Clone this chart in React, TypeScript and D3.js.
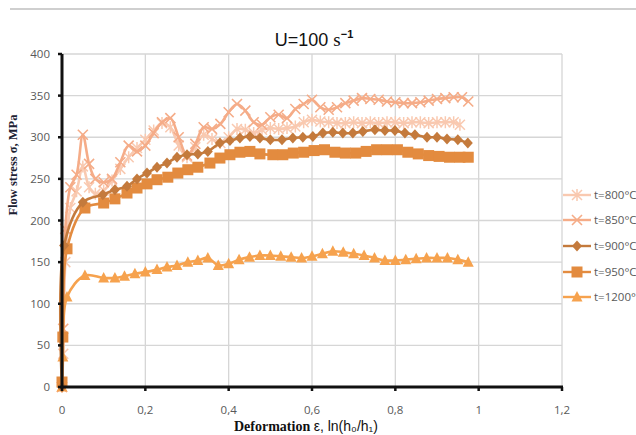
import React, { useEffect, useRef } from "react";
import * as d3 from "d3";

const xTicks = [0, 0.2, 0.4, 0.6, 0.8, 1, 1.2];
const yTicks = [0, 50, 100, 150, 200, 250, 300, 350, 400];

const seriesNames = ["t=800°C", "t=850°C", "t=900°C", "t=950°C", "t=1200°C"];

const x800 = [0, 0.003, 0.008, 0.02, 0.035, 0.05, 0.065, 0.08, 0.1, 0.12, 0.14, 0.16, 0.18, 0.2, 0.22, 0.24, 0.26, 0.28, 0.3, 0.32, 0.34, 0.36, 0.38, 0.4, 0.42, 0.44, 0.46, 0.48, 0.5, 0.52, 0.54, 0.56, 0.58, 0.6, 0.62, 0.64, 0.66, 0.68, 0.7, 0.72, 0.74, 0.76, 0.78, 0.8, 0.82, 0.84, 0.86, 0.88, 0.9, 0.92, 0.94, 0.955];
const v800 = [0, 40, 150, 215, 235, 265, 240, 232, 236, 248, 262, 276, 287, 297, 308, 317, 312, 290, 276, 288, 303, 298, 293, 300, 310, 309, 305, 309, 311, 310, 311, 313, 318, 321, 319, 318, 317, 317, 318, 317, 318, 317, 318, 318, 317, 318, 318, 317, 318, 318, 318, 315];

const x850 = [0, 0.003, 0.008, 0.02, 0.035, 0.05, 0.065, 0.08, 0.1, 0.12, 0.14, 0.16, 0.18, 0.2, 0.22, 0.24, 0.26, 0.28, 0.3, 0.32, 0.34, 0.36, 0.38, 0.4, 0.42, 0.44, 0.46, 0.48, 0.5, 0.52, 0.54, 0.56, 0.58, 0.6, 0.62, 0.64, 0.66, 0.68, 0.7, 0.72, 0.74, 0.76, 0.78, 0.8, 0.82, 0.84, 0.86, 0.88, 0.9, 0.92, 0.94, 0.96, 0.975];
const v850 = [0, 70, 190, 240, 255, 303, 268, 250, 246, 250, 270, 290, 283, 290, 305, 318, 323, 300, 278, 292, 312, 310, 316, 330, 340, 332, 318, 315, 324, 327, 323, 334, 340, 345, 336, 333, 336, 341, 344, 347, 346, 345, 343, 342, 341, 341, 342, 344, 346, 347, 348, 348, 343];

const x900 = [0, 0.005, 0.05, 0.098, 0.127, 0.156, 0.18, 0.204, 0.228, 0.252, 0.276, 0.3, 0.326, 0.35, 0.379, 0.403, 0.427, 0.451, 0.475, 0.5, 0.528, 0.554, 0.578, 0.602, 0.626, 0.65, 0.674, 0.698, 0.722, 0.751, 0.775, 0.799, 0.823, 0.847, 0.876, 0.9, 0.924, 0.95, 0.974];
const v900 = [0, 170, 222, 231, 237, 241, 250, 257, 264, 269, 276, 279, 280, 283, 293, 296, 299, 301, 299, 297, 297, 299, 300, 301, 305, 306, 305, 305, 307, 309, 308, 308, 305, 303, 300, 300, 298, 297, 293];

const x950 = [0, 0.002, 0.012, 0.055, 0.1, 0.127, 0.156, 0.18, 0.204, 0.228, 0.254, 0.278, 0.302, 0.326, 0.355, 0.379, 0.403, 0.427, 0.451, 0.475, 0.506, 0.53, 0.555, 0.58, 0.605, 0.63, 0.655, 0.68, 0.705, 0.73, 0.755, 0.78, 0.805, 0.83, 0.855, 0.88, 0.905, 0.93, 0.955, 0.975];
const v950 = [6, 60, 166, 215, 221, 226, 233, 239, 244, 249, 252, 257, 261, 264, 269, 275, 279, 282, 283, 280, 279, 279, 281, 282, 284, 285, 282, 281, 281, 283, 285, 285, 285, 282, 280, 278, 277, 276, 276, 276];

const x1200 = [0, 0.002, 0.012, 0.055, 0.1, 0.127, 0.15, 0.175, 0.2, 0.228, 0.252, 0.276, 0.302, 0.326, 0.35, 0.375, 0.4, 0.425, 0.45, 0.475, 0.5, 0.525, 0.55, 0.575, 0.6, 0.625, 0.65, 0.675, 0.7, 0.725, 0.75, 0.775, 0.8, 0.825, 0.85, 0.875, 0.9, 0.925, 0.95, 0.975];
const v1200 = [0, 36, 108, 134, 131, 131, 133, 136, 138, 141, 144, 146, 150, 152, 155, 146, 148, 153, 156, 158, 158, 157, 156, 155, 157, 160, 163, 162, 160, 158, 155, 152, 152, 153, 154, 155, 155, 155, 153, 150];

const colors = ["#F9C9B0", "#F5AC88", "#C47A3C", "#E38B3F", "#F6A24E"];
const markers = ["asterisk", "x", "diamond", "square", "triangle"];

const W = 636, H = 435;
const M = { left: 62, right: 562, top: 54, bottom: 387 };

function drawMarker(g: any, type: string, cx: number, cy: number, color: string) {
  const s = 5;
  if (type === "asterisk") {
    g.append("path").attr("d", `M${cx - s},${cy - s}L${cx + s},${cy + s}M${cx - s},${cy + s}L${cx + s},${cy - s}M${cx},${cy - s - 1}L${cx},${cy + s + 1}`)
      .attr("stroke", color).attr("stroke-width", 1.5).attr("fill", "none");
  } else if (type === "x") {
    g.append("path").attr("d", `M${cx - s},${cy - s}L${cx + s},${cy + s}M${cx - s},${cy + s}L${cx + s},${cy - s}`)
      .attr("stroke", color).attr("stroke-width", 1.6).attr("fill", "none");
  } else if (type === "diamond") {
    g.append("path").attr("d", `M${cx},${cy - 5.5}L${cx + 5},${cy}L${cx},${cy + 5.5}L${cx - 5},${cy}Z`).attr("fill", color);
  } else if (type === "square") {
    g.append("rect").attr("x", cx - 5.5).attr("y", cy - 5.5).attr("width", 11).attr("height", 11).attr("fill", color);
  } else if (type === "triangle") {
    g.append("path").attr("d", `M${cx},${cy - 6}L${cx + 5.5},${cy + 4.5}L${cx - 5.5},${cy + 4.5}Z`).attr("fill", color);
  }
}

export default function App() {
  const ref = useRef<SVGSVGElement>(null);
  useEffect(() => {
    const svg = d3.select(ref.current);
    svg.selectAll("*").remove();
    const x = d3.scaleLinear().domain([0, 1.2]).range([M.left, M.right]);
    const y = d3.scaleLinear().domain([0, 400]).range([M.bottom, M.top]);

    svg.append("line").attr("x1", 10).attr("x2", W).attr("y1", 9).attr("y2", 9).attr("stroke", "#CFCFCF").attr("stroke-width", 2);

    const grid = svg.append("g");
    yTicks.filter((t) => t > 0).forEach((t) => {
      grid.append("line").attr("x1", M.left).attr("x2", M.right).attr("y1", y(t)).attr("y2", y(t)).attr("stroke", "#D6D6D6").attr("stroke-width", 1.3);
    });
    xTicks.filter((t) => t > 0).forEach((t) => {
      grid.append("line").attr("x1", x(t)).attr("x2", x(t)).attr("y1", M.top).attr("y2", M.bottom).attr("stroke", "#D6D6D6").attr("stroke-width", 1.3);
    });

    const tickFont = "'Open Sans', 'Liberation Sans', sans-serif";
    yTicks.forEach((t) => {
      svg.append("text").attr("x", 50).attr("y", y(t)).attr("dy", "0.35em").attr("text-anchor", "end")
        .attr("font-family", tickFont).attr("font-size", 11.5).attr("fill", "#595959").text(String(t));
    });
    xTicks.forEach((t) => {
      svg.append("text").attr("x", x(t)).attr("y", 410).attr("dy", "0.35em").attr("text-anchor", "middle")
        .attr("font-family", tickFont).attr("font-size", 11.5).attr("fill", "#595959").text(String(t).replace(".", ","));
    });

    const datasets = [
      [x800, v800], [x850, v850], [x900, v900], [x950, v950], [x1200, v1200],
    ];
    const line = d3.line<[number, number]>().x((d) => x(d[0])).y((d) => y(d[1])).curve(d3.curveCatmullRom.alpha(0.5));
    const order = [0, 1, 4, 3, 2];
    order.forEach((i) => {
      const [xs, vs] = datasets[i];
      const pts: [number, number][] = xs.map((xv, k) => [xv, vs[k]]);
      const g = svg.append("g");
      g.append("path").attr("d", line(pts) as string).attr("fill", "none").attr("stroke", colors[i]).attr("stroke-width", 2.6);
      pts.forEach((p) => drawMarker(g, markers[i], x(p[0]), y(p[1]), colors[i]));
    });

    const ax = svg.append("g");
    ax.append("line").attr("x1", M.left).attr("x2", M.left).attr("y1", M.top).attr("y2", M.bottom + 1.5).attr("stroke", "#111").attr("stroke-width", 3);
    ax.append("line").attr("x1", M.left - 1.5).attr("x2", M.right + 1).attr("y1", M.bottom).attr("y2", M.bottom).attr("stroke", "#111").attr("stroke-width", 3);
    yTicks.forEach((t) => {
      ax.append("line").attr("x1", M.left - 4).attr("x2", M.left).attr("y1", y(t)).attr("y2", y(t)).attr("stroke", "#111").attr("stroke-width", 2.5);
    });
    xTicks.forEach((t) => {
      ax.append("line").attr("x1", x(t)).attr("x2", x(t)).attr("y1", M.bottom).attr("y2", M.bottom + 4).attr("stroke", "#111").attr("stroke-width", 2.5);
    });

    const title = svg.append("text").attr("x", 314).attr("y", 46).attr("text-anchor", "middle").attr("fill", "#111");
    title.append("tspan").attr("font-family", "'Liberation Sans', Arial, sans-serif").attr("font-size", 18).text("U=100 ");
    title.append("tspan").attr("font-family", "'Liberation Serif', 'Times New Roman', serif").attr("font-size", 19).text("s");
    title.append("tspan").attr("font-family", "'Liberation Sans', Arial, sans-serif").attr("font-weight", "bold").attr("font-size", 11).attr("dy", -8).text("−1");

    const xt = svg.append("text").attr("x", 234).attr("y", 431).attr("fill", "#111");
    xt.append("tspan").attr("font-family", "'Liberation Serif', 'Times New Roman', serif").attr("font-weight", "bold").attr("font-size", 14).text("Deformation ");
    xt.append("tspan").attr("font-family", "'Liberation Sans', Arial, sans-serif").attr("font-size", 14).text("ε, ln(h₀/h₁)");

    svg.append("text").attr("transform", "translate(17,165) rotate(-90)").attr("text-anchor", "middle")
      .attr("font-family", "'Liberation Serif', 'Times New Roman', serif").attr("font-weight", "bold").attr("font-size", 12.5)
      .attr("fill", "#1C2233").text("Flow stress σ, MPa");

    const legY = [195, 220, 246, 272, 297];
    seriesNames.forEach((name, i) => {
      const g = svg.append("g");
      g.append("line").attr("x1", 563).attr("x2", 591).attr("y1", legY[i]).attr("y2", legY[i]).attr("stroke", colors[i]).attr("stroke-width", 2.4);
      drawMarker(g, markers[i], 577, legY[i], colors[i]);
      g.append("text").attr("x", 594).attr("y", legY[i]).attr("dy", "0.35em").attr("font-family", tickFont)
        .attr("font-size", 11.5).attr("fill", "#595959").text(name);
    });
  }, []);
  return (
    <svg ref={ref} width={W} height={H} style={{ position: "absolute", left: 0, top: 0, background: "#fff" }} />
  );
}
